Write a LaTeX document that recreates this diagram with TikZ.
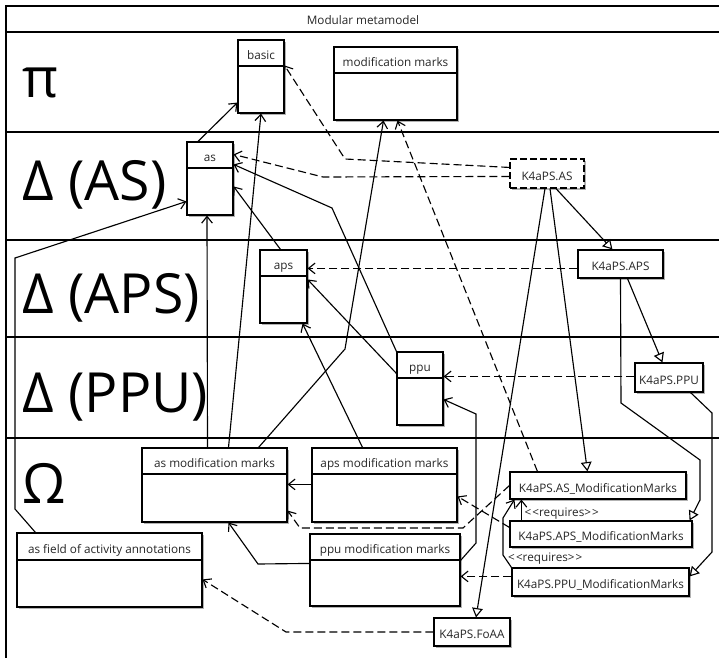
\documentclass[tikz,border=0pt]{standalone}
\usepackage{fontspec}
\setmainfont{Open Sans}
\usetikzlibrary{arrows.meta, calc, fit, shadows}

\begin{document}
\begin{tikzpicture}[x=0.75pt,y=0.75pt,yscale=-1,xscale=1,
    line width=0.85pt,
    txt/.style={inner sep=2pt, text height=10pt, text depth=0pt, text=black!85, font=\fontsize{8.8}{10.5}\selectfont},
    cls/.style={draw, fill=white, inner sep=0pt, drop shadow={shadow xshift=1.5pt, shadow yshift=-1.5pt, fill=black!30, opacity=1}},
    clshead/.style={draw, inner sep=0pt, label={[txt]center:#1}},
    impl/.style={cls, label={[txt]center:#1}},
    lane/.style={anchor=base west, inner sep=0pt, font=\fontsize{41.5}{46}\selectfont},
    assoc/.style={-{Straight Barb[length=5pt,width=8pt]}},
    dep/.style={assoc, dash pattern={on 6pt off 3pt}},
    gen/.style={-{Triangle[open,length=7pt,width=8pt,fill=white]}}]

    \useasboundingbox (0,0) rectangle (719,658);
    \clip (0,0) rectangle (719,658);

    % Frame, title bar and lanes
    \draw (6,6) rectangle (730,670);
    \draw (6,32) -- (719,32);
    \foreach \y in {132,240,337,438}
        \draw (6,\y) -- (719,\y);
    \node[txt] (title) at (363,18) {Modular metamodel};

    % Lane labels
    \node[lane] (pi) at (22,97) {π};
    \node[lane] (dAS) at (22,200) {Δ (AS)};
    \node[lane] (dAPS) at (22,313) {Δ (APS)};
    \node[lane] (dPPU) at (22,412) {Δ (PPU)};
    \node[lane] (omega) at (22,503) {Ω};

    % Class boxes
    \node[cls, fit={(238,40) (284,113)}] (basic) {};
    \node[clshead=basic, fit={(238,40) (284,66)}] (basic-h) {};
    \node[cls, fit={(334,47) (457,120)}] (modmarks) {};
    \node[clshead=modification marks, fit={(334,47) (457,73)}] (modmarks-h) {};
    \node[cls, fit={(187,142) (233,215)}] (as) {};
    \node[clshead=as, fit={(187,142) (233,168)}] (as-h) {};
    \node[cls, fit={(260,250) (307,323)}] (aps) {};
    \node[clshead=aps, fit={(260,250) (307,276)}] (aps-h) {};
    \node[cls, fit={(397,352) (443,425)}] (ppu) {};
    \node[clshead=ppu, fit={(397,352) (443,378)}] (ppu-h) {};
    \node[cls, fit={(142,448) (287,522)}] (asmm) {};
    \node[clshead=as modification marks, fit={(142,448) (287,474)}] (asmm-h) {};
    \node[cls, fit={(312,448) (457,522)}] (apsmm) {};
    \node[clshead=aps modification marks, fit={(312,448) (457,474)}] (apsmm-h) {};
    \node[cls, fit={(17,533) (202,607)}] (foaa) {};
    \node[clshead=as field of activity annotations, fit={(17,533) (202,560)}] (foaa-h) {};
    \node[cls, fit={(310,534) (460,606)}] (ppumm) {};
    \node[clshead=ppu modification marks, fit={(310,534) (460,560)}] (ppumm-h) {};

    % K4aPS packages
    \node[impl=K4aPS.AS, dash pattern={on 5pt off 2.5pt}, fit={(510,159) (584,188)}] (k4as) {};
    \node[impl=K4aPS.APS, fit={(578,250) (663,278)}] (k4aps) {};
    \node[impl=K4aPS.PPU, fit={(635,363) (703,392)}] (k4ppu) {};
    \node[impl=K4aPS.AS\_ModificationMarks, fit={(510,472) (686,499)}] (k4asmm) {};
    \node[impl=K4aPS.APS\_ModificationMarks, fit={(510,521) (692,547)}] (k4apsmm) {};
    \node[impl=K4aPS.PPU\_ModificationMarks, fit={(512,568) (689,596)}] (k4ppumm) {};
    \node[impl=K4aPS.FoAA, fit={(434,618) (510,646)}] (k4foaa) {};

    % Associations
    \draw[assoc] ($(as.north)+(-12,0)$) -- ($(basic.south west)+(0,-11)$);
    \draw[assoc] ($(asmm.north)+(14,0)$) -- (basic.south);
    \draw[assoc] ($(asmm.north)+(-7,0)$) -- ($(as.south)+(-3,0)$);
    \draw[assoc] ($(asmm.north east)+(-29,0)$) -- (345,349) -- ($(modmarks.south)+(-12,0)$);
    \draw[assoc] (ppu.north west) -- (332,208) -- ($(as.north east)+(0,23)$);
    \draw[assoc] ($(ppu.north west)+(0,22)$) -- ($(aps.north east)+(0,30)$);
    \draw[assoc] ($(aps.north)+(-3,0)$) -- ($(as.north east)+(0,45)$);
    \draw[assoc] ($(apsmm.north)+(-22,0)$) -- ($(aps.south east)+(-5,0)$);
    \draw[assoc] ($(apsmm.north west)+(0,37)$) -- ($(asmm.north east)+(0,37)$);
    \draw[assoc] ($(ppumm.north west)+(0,30)$) -- (258,564) -- ($(asmm.south)+(14,0)$);
    \draw[assoc] ($(ppumm.north east)+(0,27)$) -- (476,543) -- (476,414) -- ($(ppu.north east)+(0,48)$);

    % Dependencies
    \draw[dep] ($(k4as.north west)+(0,9)$) -- (345,159) -- ($(basic.north east)+(0,26)$);
    \draw[dep] ($(k4as.north west)+(0,18)$) -- (323,177) -- ($(as.north east)+(0,13)$);
    \draw[dep] ($(k4aps.north west)+(0,19)$) -- ($(aps.north east)+(0,19)$);
    \draw[dep] ($(k4ppu.north west)+(0,14)$) -- ($(ppu.north east)+(0,25)$);
    \draw[dep] ($(k4asmm.north west)+(28,0)$) -- ($(modmarks.south)+(2,0)$);
    \draw[dep] (k4asmm.west) -- (463,528) -- (300,528) -- ($(asmm.south east)+(0,-12)$);
    \draw[dep] ($(k4apsmm.north west)+(0,7)$) -- ($(apsmm.north east)+(0,49)$);
    \draw[dep] ($(k4ppumm.north west)+(0,9)$) -- ($(ppumm.north east)+(0,43)$);
    \draw[dep] (k4foaa.west) -- (286,632) -- ($(foaa.north east)+(0,47)$);

    % Generalizations
    \draw[gen] ($(k4as.south)+(9,0)$) -- ($(k4aps.north west)+(35,0)$);
    \draw[gen] ($(k4aps.south)+(7,0)$) -- ($(k4ppu.north west)+(28,0)$);
    \draw[gen] ($(k4as.south)+(3,0)$) -- ($(k4asmm.north west)+(78,0)$);
    \draw[gen] ($(k4as.south)+(-2,0)$) -- ($(k4foaa.north)+(4,0)$);
    \draw[gen] (k4aps.south) -- (621,403) -- (700,460) -- (700,500) -- ($(k4apsmm.north east)+(-3,0)$);
    \draw[gen] ($(k4ppu.south east)+(-13,0)$) -- (712,413) -- (712,552) -- ($(k4ppumm.north east)+(0,9)$);

    % requires
    \draw[assoc] ($(k4apsmm.north west)+(12,0)$) -- node[txt, right] (req1) {<\kern0.8pt<requires>\kern0.8pt>} ($(k4asmm.south west)+(12,0)$);
    \draw[assoc] (k4ppumm.north west) -- (503,555) -- (503,518) -- ($(k4asmm.south west)+(5,0)$);
    \node[txt, anchor=west] (req2) at (505,555) {<\kern0.8pt<requires>\kern0.8pt>};

    % field of activity link
    \draw[assoc] (foaa.north west) ++(19,0) -- (15,509) -- (15,258) -- ($(as.north west)+(0,60)$);

\end{tikzpicture}
\end{document}
